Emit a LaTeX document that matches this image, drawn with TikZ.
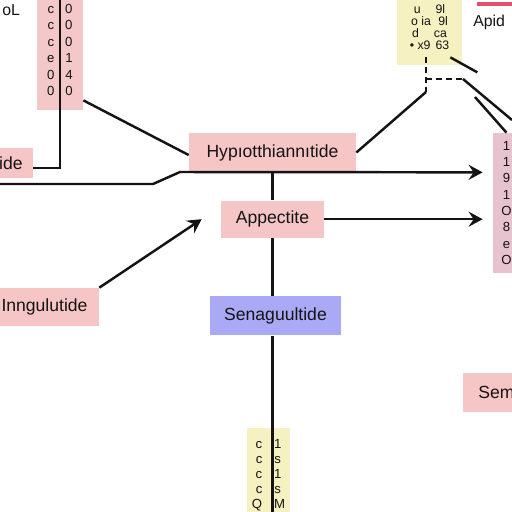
\documentclass[tikz,border=0pt]{standalone}
\usepackage{fontspec}
\setmainfont{Liberation Sans}
\usetikzlibrary{arrows.meta,positioning,calc}
\definecolor{ink}{HTML}{141414}
\definecolor{rose}{HTML}{F6C6C6}
\definecolor{blush}{HTML}{F4C7C9}
\definecolor{mauve}{HTML}{E7C3CF}
\definecolor{straw}{HTML}{F5F1C0}
\definecolor{lilac}{HTML}{A9A9F5}
\definecolor{signal}{HTML}{E2506C}
\tikzset{
  pepbox/.style={fill=rose,align=center,inner sep=0pt,minimum height=7.8mm,
    font=\fontsize{10}{12}\selectfont,text=ink},
  column/.style={fill=#1,align=center,inner sep=0pt,
    font=\fontsize{7.5}{9.4}\selectfont,text=ink},
  arrow/.style={-{Stealth[length=2.8mm,width=3mm,inset=1mm]},line width=1.4pt,draw=ink},
  link/.style={line width=1.4pt,draw=ink},
  dashedlink/.style={line width=1.4pt,draw=ink,dash pattern=on 3.4pt off 2.3pt},
  tag/.style={font=\fontsize{9}{10}\selectfont,text=ink,inner sep=0pt}
}

\begin{document}
\begin{tikzpicture}[node distance=5.6mm]
  \useasboundingbox[fill=white] (0,0) rectangle (10.24,-10.24);
  % centre column
  \node[pepbox,minimum width=33.4mm] (hypo) at (5.45,-3.05) {Hypıotthiannıtide};
  \node[pepbox,minimum width=20.6mm,minimum height=7.4mm,below=of hypo] (appetite) {Appectite};
  \node[pepbox,fill=lilac,minimum width=26.2mm,below=11.6mm of appetite,xshift=0.06cm] (sena) {Senaguultide};
  % side boxes
  \node[pepbox,minimum width=21.8mm,minimum height=7.6mm] (ingul) at (0.89,-6.14) {Inngulutide};
  \node[pepbox,anchor=east,inner xsep=2mm,minimum height=6mm] (tidebox) at (0.66,-3.26) {tide};
  \node[pepbox,anchor=west,text width=12mm,align=left,inner xsep=3mm] (sem) at (9.26,-7.85) {Sem};
  % tall columns
  \node[column=blush,minimum width=9.2mm,minimum height=24mm] (leftcol) at (1.2,-1.0)
    {c\hspace{2.2mm}0\\c\hspace{2.2mm}0\\c\hspace{2.2mm}0\\e\hspace{2.2mm}1\\0\hspace{2.2mm}4\\0\hspace{2.2mm}0};
  \node[column=straw,minimum width=13mm,minimum height=15mm,font=\fontsize{7}{6.8}\selectfont] (topcol) at (8.59,-0.55)
    {u\hspace{3mm}9l\\o ia\hspace{1.5mm}9l\\d\hspace{3mm}ca\\\textbullet\ x9\hspace{1mm}63};
  \node[column=mauve,minimum width=5.4mm,minimum height=28mm,font=\fontsize{7.5}{9.3}\selectfont] (rightcol) at (10.13,-4.06)
    {1\\1\\9\\1\\O\\8\\e\\O};
  \node[column=straw,minimum width=8.6mm,minimum height=19mm,font=\fontsize{7.5}{8.5}\selectfont] (botcol) at (5.37,-9.5)
    {c\hspace{2.4mm}1\\c\hspace{2.4mm}s\\c\hspace{2.4mm}1\\c\hspace{2.4mm}s\\Q\hspace{2.4mm}M};
  % corner labels
  \node[tag,anchor=west] (apid) at (9.46,-0.44) {Apid};
  \node[tag,anchor=west] (corner) at (0.04,-0.2) {oL};
  \draw[signal,line width=2pt] (9.54,-0.08) -- (10.24,-0.08);
  % connectors
  \draw[link] (leftcol.north) |- ($(tidebox.east)+(0,-0.1)$);
  \draw[link] ($(leftcol.south east)+(0,0.2)$) -- ($(hypo.west)+(0,-0.05)$);
  \coordinate (inlet) at (0,-3.68);
  \draw[arrow,shorten >=2mm] (inlet) -- (3.06,-3.68) -- (3.6,-3.44) -- (rightcol.west |- hypo.south);
  \draw[link] (hypo) -- (appetite);
  \draw[arrow,shorten >=2mm] (appetite.east) -- (rightcol.west |- appetite.east);
  \draw[arrow] (ingul.north east) -- ($(appetite.west)+(-0.38,0)$);
  \draw[link] (appetite) -- (appetite |- sena.north);
  \draw[link] (appetite |- sena.south) -- (appetite |- botcol.south);
  % dashed fork, top right
  \coordinate (fork) at (8.52,-1.84);
  \coordinate (forkr) at (9.26,-1.58);
  \coordinate (exit) at (10.24,-2.4);
  \coordinate (spur) at (9.5,-1.94);
  \draw[dashedlink] ($(fork |- topcol.south)+(0,0.16)$) -- (fork);
  \draw[dashedlink] (fork |- forkr) -- (forkr);
  \draw[link] (fork) -- (hypo.east);
  \draw[link] (forkr) -- (exit);
  \draw[link] (spur) -- (rightcol.north);
  \draw[link] ($(topcol.south east)+(-0.24,0.16)$) -- ++(0.54,-0.3);
\end{tikzpicture}
\end{document}
